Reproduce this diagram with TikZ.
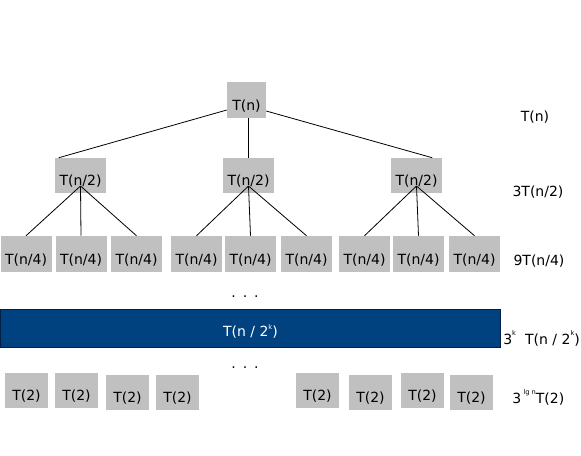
\documentclass[tikz,border=0pt]{standalone}
\usepackage{fontspec}
\setmainfont{DejaVu Sans}
\usetikzlibrary{calc}
\definecolor{boxgray}{RGB}{192,192,192}
\definecolor{bandblue}{RGB}{0,65,128}
\definecolor{banddark}{RGB}{0,30,70}
\begin{document}
\begin{tikzpicture}[x=0.75pt,y=-0.75pt,
  font=\fontsize{10.5}{12}\selectfont,
  gbox/.style={fill=boxgray, inner sep=0pt, text depth=5.4pt},
  rootbox/.style={gbox, minimum width=29.25pt, text height=21.6pt},
  halfbox/.style={gbox, minimum width=38.25pt, text height=20.85pt},
  quartbox/.style={gbox, minimum width=38.25pt, text height=21.6pt},
  twobox/.style={gbox, minimum width=32.25pt, text height=20.85pt, text depth=5.4pt},
  edge/.style={draw=black, line width=0.6pt},
  rlabel/.style={inner sep=0pt}]
\clip (0,0) rectangle (581,455);
\fill[white] (0,0) rectangle (581,455);

% level 0
\node[rootbox] (root) at (246.5,100) {T(n)};
% level 1
\node[halfbox] (ha) at (80.5,175.5) {T(n/2)};
\node[halfbox] (hb) at (248.5,175.5) {T(n/2)};
\node[halfbox] (hc) at (416.5,175.5) {T(n/2)};
% level 2
\node[quartbox] (qa1) at (26,254) {T(n/4)};
\node[quartbox] (qa2) at (81,254) {T(n/4)};
\node[quartbox] (qa3) at (136.5,254) {T(n/4)};
\node[quartbox] (qb1) at (196.5,254) {T(n/4)};
\node[quartbox] (qb2) at (250.5,254) {T(n/4)};
\node[quartbox] (qb3) at (306.5,254) {T(n/4)};
\node[quartbox] (qc1) at (364.5,254) {T(n/4)};
\node[quartbox] (qc2) at (418.5,254) {T(n/4)};
\node[quartbox] (qc3) at (474.5,254) {T(n/4)};

% connectors level 0 -> 1
\draw[edge] ($(root.west)+(0,10)$) -- ($(ha.north west)+(4,0)$);
\draw[edge] (hb.north) -- (hb.north |- root.south);
\draw[edge] ($(root.east)+(0,11)$) -- ($(hc.north east)+(-10,0)$);

% convergence points
\coordinate (pa) at ($(ha.center)+(0,10.5)$);
\coordinate (pb) at ($(hb.center)+(0,10.5)$);
\coordinate (pc) at ($(hc.center)+(0,10.5)$);
\foreach \c in {qa1,qa2,qa3} \draw[edge] (pa) -- (\c.north);
\foreach \c in {qb1,qb2,qb3} \draw[edge] (pb) -- (\c.north);
\foreach \c in {qc1,qc2,qc3} \draw[edge] (pc) -- (\c.north);

% dots
\node[rlabel, anchor=base] (dots1) at (245,297) {.\,\,\,.\,\,\,.};
\node[rlabel, anchor=base] (dots2) at (245,368) {.\,\,\,.\,\,\,.};

% blue band
\node[fill=bandblue, draw=banddark, line width=0.6pt, inner sep=0pt,
      minimum width=375pt, minimum height=28.5pt, anchor=north west,
      text=white, text height=20.4pt, text depth=8.1pt] (band) at (0,309)
      {T(n / 2\raisebox{0.9ex}{\tiny k})};

% level T(2)
\node[twobox] (t1) at (26.5,390.5) {T(2)};
\node[twobox] (t2) at (76.5,390.5) {T(2)};
\node[twobox] (t3) at (127.5,392) {T(2)};
\node[twobox] (t4) at (177.5,392) {T(2)};
\node[twobox] (t5) at (317.5,390.5) {T(2)};
\node[twobox] (t6) at (370.5,392) {T(2)};
\node[twobox] (t7) at (422.5,390.5) {T(2)};
\node[twobox] (t8) at (471.5,392) {T(2)};

% right-hand labels
\node[rlabel] (r0) at (535,117) {T(n)};
\node[rlabel] (r1) at (538,192) {3T(n/2)};
\node[rlabel] (r2) at (539,261) {9T(n/4)};
\node[rlabel, anchor=base west] (r3) at (503,344)
  {3\raisebox{1.1ex}{\tiny k}\,\, T(n / 2\raisebox{1.1ex}{\tiny k})};
\node[rlabel, anchor=base west] (r4) at (512,403)
  {3\,\raisebox{1.1ex}{\tiny lg n}T(2)};
\end{tikzpicture}
\end{document}
